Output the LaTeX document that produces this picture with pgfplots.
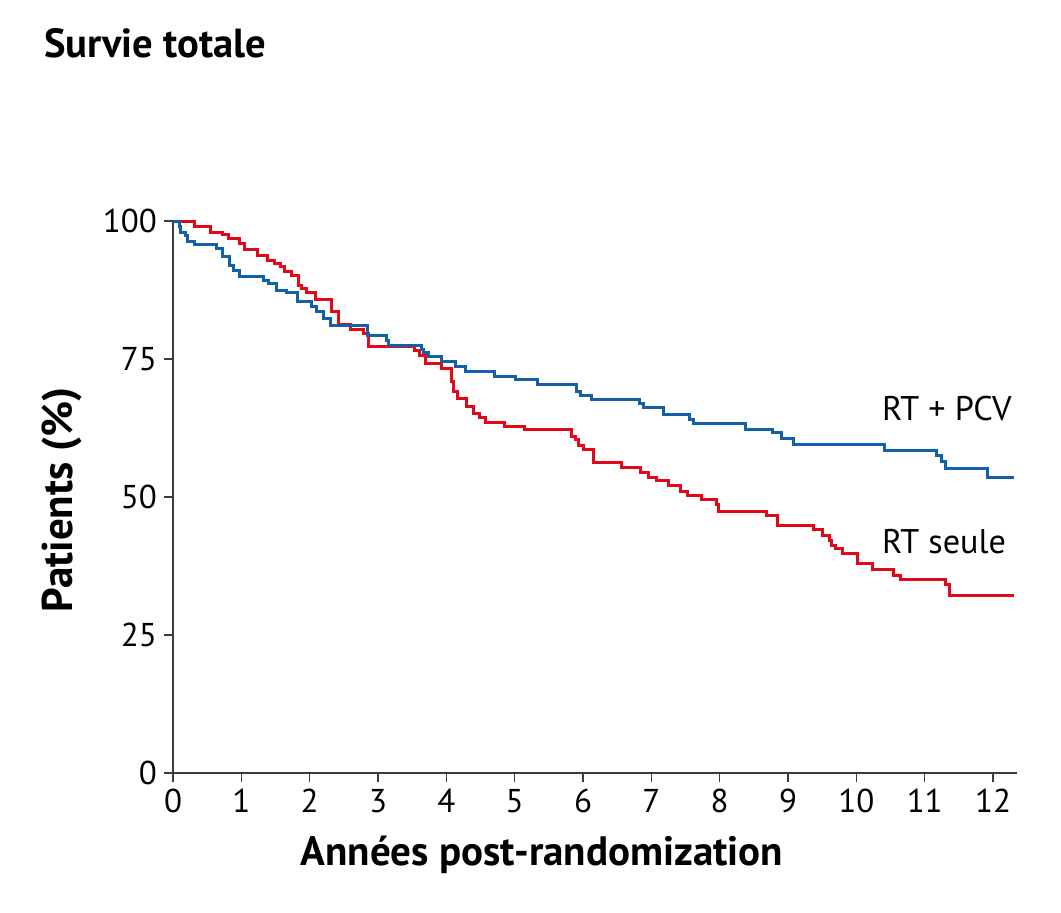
\documentclass[border=0pt]{standalone}
\usepackage{fontspec}
\setmainfont{PT Sans}
\usepackage{pgfplots}
\pgfplotsset{compat=1.18}
\definecolor{kmblue}{RGB}{20,96,166}
\definecolor{kmred}{RGB}{226,8,24}
\definecolor{axgray}{RGB}{60,60,60}
\begin{document}
\begin{tikzpicture}
\path[use as bounding box] (0,0) rectangle (530.5pt,456pt);
\node[anchor=west,inner sep=0pt,font=\fontsize{20.3}{22}\selectfont\bfseries] at (22pt,434.5pt) {Survie totale};
\begin{axis}[
  at={(86.5pt,69.5pt)}, anchor=south west,
  scale only axis, width=422pt, height=276pt,
  xmin=0, xmax=12.35, ymin=0, ymax=100,
  axis lines=left, axis line style={axgray,line width=0.7pt,-},
  xtick={0,1,...,12}, ytick={0,25,50,75,100},
  tick align=outside, major tick length=4.5pt,
  tick style={axgray,line width=0.7pt},
  ticklabel style={font=\fontsize{16.5}{18}\selectfont},
  /pgf/number format/assume math mode=true,
  clip=false,
]
\addplot[const plot, kmred, line width=1.5pt] coordinates {
(0,100) (0.32,99.0) (0.55,97.9) (0.73,97.5) (0.81,96.9) (0.97,96.0) (1.04,94.9)
(1.24,93.8) (1.39,92.9) (1.48,92.3) (1.57,91.7) (1.63,90.8) (1.74,90.2) (1.83,88.4)
(1.88,87.8) (1.96,87.0) (2.09,85.7) (2.32,83.6) (2.42,81.3) (2.59,80.4) (2.79,79.7)
(2.86,77.2) (3.53,76.6) (3.60,75.6) (3.69,74.2) (3.93,73.3) (4.08,70.9) (4.11,69.2)
(4.16,67.8) (4.30,66.4) (4.39,65.1) (4.49,64.4) (4.57,63.5) (4.85,62.7) (5.14,62.2)
(5.83,60.9) (5.89,60.4) (5.93,59.4) (6.00,58.6) (6.15,56.2) (6.57,55.4) (6.84,54.4)
(6.96,53.6) (7.08,52.9) (7.25,52.1) (7.42,51.0) (7.53,50.2) (7.73,49.5) (7.96,48.6)
(7.98,47.4) (8.68,46.7) (8.84,44.9) (9.37,44.1) (9.51,43.1) (9.60,42.2) (9.64,41.3)
(9.69,40.7) (9.80,39.8) (10.02,38.0) (10.24,36.8) (10.55,35.7) (10.65,35.0)
(11.30,34.1) (11.36,32.1) (12.30,32.1)
};
\addplot[const plot, kmblue, line width=1.5pt] coordinates {
(0,100) (0.09,99.0) (0.11,97.9) (0.18,97.3) (0.21,96.2) (0.32,95.8) (0.64,95.0)
(0.72,93.5) (0.82,92.0) (0.89,91.1) (0.97,90.0) (1.33,89.3) (1.40,88.7) (1.51,87.5)
(1.66,87.0) (1.82,85.4) (2.03,84.5) (2.10,83.6) (2.20,82.4) (2.31,81.0) (2.85,79.2)
(3.13,78.4) (3.16,77.4) (3.63,76.7) (3.67,76.2) (3.74,75.4) (3.93,74.6) (4.13,73.6)
(4.28,72.8) (4.70,71.9) (5.01,71.2) (5.34,70.4) (5.90,69.2) (5.96,68.3) (6.12,67.7)
(6.82,67.0) (6.89,66.2) (7.18,65.0) (7.56,64.0) (7.62,63.4) (8.38,62.2) (8.77,61.6)
(8.91,60.6) (9.08,59.6) (10.41,58.5) (11.17,57.6) (11.24,56.4) (11.30,55.2)
(11.92,53.5) (12.31,53.5)
};
\node[anchor=west,inner sep=0pt,font=\fontsize{17.1}{19}\selectfont] at (axis cs:10.37,66.1) {RT + PCV};
\node[anchor=west,inner sep=0pt,font=\fontsize{17.1}{19}\selectfont] at (axis cs:10.37,42.0) {RT seule};
\node[inner sep=0pt,font=\fontsize{20.5}{22}\selectfont\bfseries] at (rel axis cs:0.437,0) [yshift=-41pt] {Années post-randomization};
\node[xshift=-55.5pt,inner sep=0pt,rotate=90,font=\fontsize{21.5}{23}\selectfont\bfseries] at (rel axis cs:0,0.495) {Patients (\%)};
\end{axis}
\end{tikzpicture}
\end{document}
